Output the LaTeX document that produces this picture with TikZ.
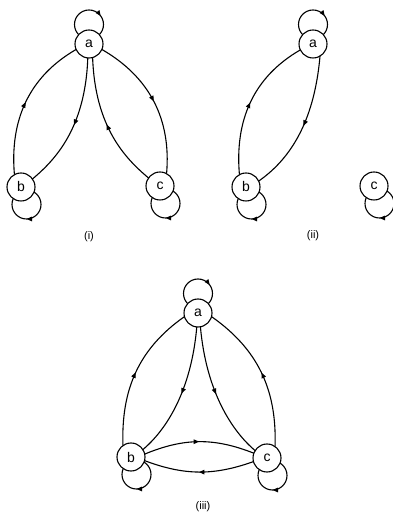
\documentclass[tikz,border=0pt]{standalone}
\usepackage{fontspec}
\setmainfont{Liberation Sans}
\usetikzlibrary{arrows.meta,decorations.markings,backgrounds}
\begin{document}
\begin{tikzpicture}[x=1pt,y=1pt,
  vert/.style={circle,draw,line width=1.1pt,fill=white,minimum size=28pt,inner sep=0pt,outer sep=0pt,font=\fontsize{14}{14}\selectfont},
  lbl/.style={font=\fontsize{11}{11}\selectfont},
  dedge/.style={line width=1.1pt,postaction={decorate},decoration={markings,mark=at position #1 with {\arrow{Triangle[length=5.5pt,width=4.5pt]}}}},
  dedge/.default=0.5,
  selfloop/.style={line width=1.1pt,postaction={decorate},decoration={markings,mark=at position #1 with {\arrowreversed{Triangle[length=5.5pt,width=4.5pt]}}}}
]
\useasboundingbox (0,0) rectangle (393,519);
% (i)
\node[vert] (a1) at (89,475) {a};
\node[vert] (b1) at (21,332) {b};
\node[vert] (c1) at (160,333) {c};
\node[lbl] (l1) at (89,282) {(i)};
% (ii)
\node[vert] (a2) at (313,475) {a};
\node[vert] (b2) at (246,332) {b};
\node[vert] (c2) at (374,333) {c};
\node[lbl] (l2) at (313,283) {(ii)};
% (iii)
\node[vert] (a3) at (198,206) {a};
\node[vert] (b3) at (131,62) {b};
\node[vert] (c3) at (267,61) {c};
\node[lbl] (l3) at (203,12) {(iii)};
% loops
\begin{scope}[on background layer]
\foreach \n in {a1,a2,a3}
  \draw[selfloop=0.1] ([yshift=19.5pt]\n.center) circle[radius=14.5pt];
\foreach \n in {b1,c1,b2,c2,b3,c3}
  \draw[selfloop=0.75] ([shift={(5.5pt,-17.5pt)}]\n.center) circle[radius=14.5pt];
\end{scope}
% edges (i)
\draw[dedge] (b1.118) to[out=95,in=210] (a1.203);
\draw[dedge] (a1.265) .. controls +(268:70) and +(40:30) .. (b1.35);
\draw[dedge] (c1.145) .. controls +(140:30) and +(272:70) .. (a1.285);
\draw[dedge] (a1.-23) to[out=-30,in=85] (c1.62);
% edges (ii)
\draw[dedge] (b2.118) to[out=95,in=210] (a2.205);
\draw[dedge] (a2.-60) .. controls +(265:70) and +(35:35) .. (b2.25);
% edges (iii)
\draw[dedge] (b3.125) to[out=92,in=215] (a3.195);
\draw[dedge] (c3.55) to[out=88,in=-35] (a3.-15);
\draw[dedge] (a3.265) .. controls +(265:65) and +(40:30) .. (b3.32);
\draw[dedge] (a3.280) .. controls +(275:65) and +(140:30) .. (c3.148);
\draw[dedge] (b3.12) to[bend left=22] (c3.160);
\draw[dedge] (c3.195) to[bend left=20] (b3.-15);
\end{tikzpicture}
\end{document}
